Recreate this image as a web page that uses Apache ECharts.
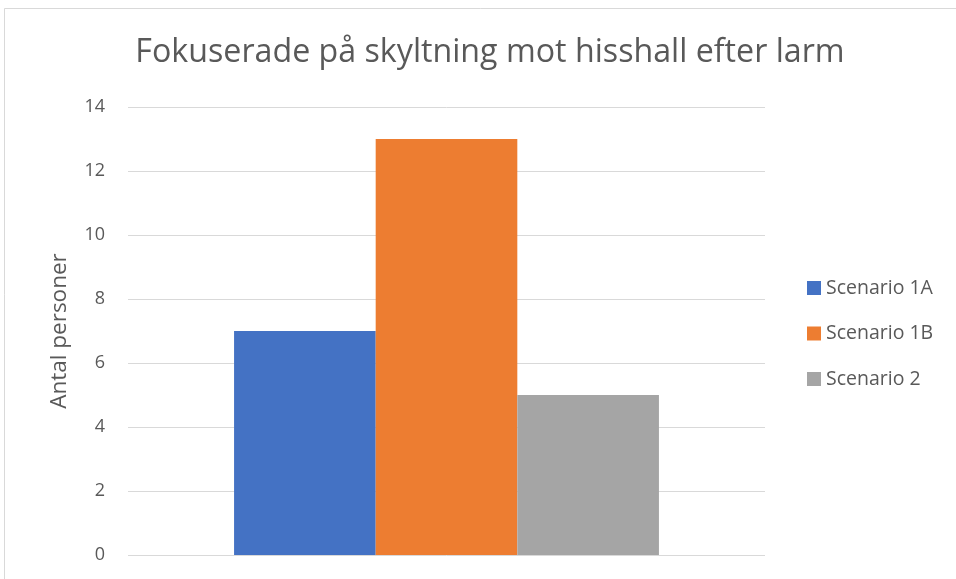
<!DOCTYPE html>
<html>
<head>
<meta charset="utf-8">
<style>html,body{margin:0;padding:0;background:#fff;}#c{width:956px;height:579px;}</style>
<script src="https://cdn.jsdelivr.net/npm/echarts@6/dist/echarts.min.js"></script>
</head>
<body>
<div id="c"></div>
<script>
const categories = [''];
const seriesNames = ['Scenario 1A', 'Scenario 1B', 'Scenario 2'];
const seriesValues = [[7], [13], [5]];
const seriesColors = ['#4472C4', '#ED7D31', '#A5A5A5'];
const yTicks = [0, 2, 4, 6, 8, 10, 12, 14];

const chart = echarts.init(document.getElementById('c'));
const font = 'Open Sans';
chart.setOption({
  animation: false,
  backgroundColor: '#fff',
  graphic: [{
    type: 'rect', shape: {x: 4.5, y: 8.5, width: 1000, height: 1000},
    style: {fill: 'none', stroke: '#d9d9d9', lineWidth: 1}, silent: true
  }],
  title: {
    text: 'Fokuserade på skyltning mot hisshall efter larm',
    left: 485, top: 32, textAlign: 'center',
    textStyle: {fontFamily: font, fontSize: 32.2, fontWeight: 'normal', color: '#595959'}
  },
  legend: {
    orient: 'vertical', left: 807, top: 278, itemGap: 25.5, padding: 0,
    itemWidth: 14, itemHeight: 14, icon: 'rect',
    textStyle: {fontFamily: font, fontSize: 19.5, color: '#595959', padding: [0,0,0,0]},
    data: seriesNames
  },
  grid: {left: 128, right: 191, top: 107, bottom: 24, containLabel: false},
  xAxis: {
    type: 'category', data: categories,
    axisLine: {show: false}, axisTick: {show: false}, axisLabel: {show: false}
  },
  yAxis: {
    type: 'value', min: yTicks[0], max: yTicks[yTicks.length - 1], interval: 2,
    name: 'Antal personer', nameLocation: 'middle', nameGap: 57, nameRotate: 90,
    nameTextStyle: {fontFamily: font, fontSize: 22.5, color: '#595959'},
    axisLine: {show: false}, axisTick: {show: false},
    axisLabel: {fontFamily: font, fontSize: 18, color: '#595959', margin: 23},
    splitLine: {lineStyle: {color: '#d9d9d9', width: 1}}
  },
  series: seriesNames.map((n, i) => ({
    name: n, type: 'bar', data: seriesValues[i],
    barGap: '0%', barCategoryGap: '33.3%',
    itemStyle: {color: seriesColors[i]}
  }))
});
</script>
</body>
</html>
